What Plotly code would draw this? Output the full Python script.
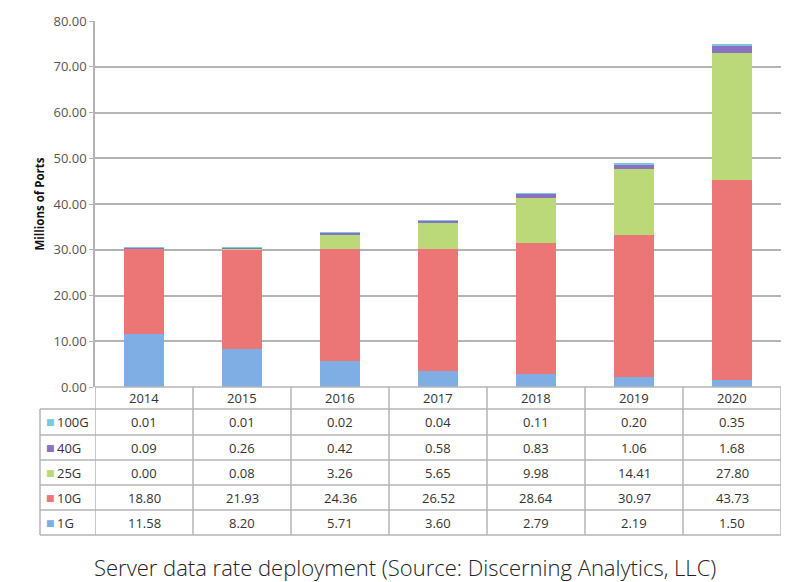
import plotly.graph_objects as go

years = ["2014", "2015", "2016", "2017", "2018", "2019", "2020"]
series_names = ["1G", "10G", "25G", "40G", "100G"]
v_1g = [11.58, 8.20, 5.71, 3.60, 2.79, 2.19, 1.50]
v_10g = [18.80, 21.93, 24.36, 26.52, 28.64, 30.97, 43.73]
v_25g = [0.00, 0.08, 3.26, 5.65, 9.98, 14.41, 27.80]
v_40g = [0.09, 0.26, 0.42, 0.58, 0.83, 1.06, 1.68]
v_100g = [0.01, 0.01, 0.02, 0.04, 0.11, 0.20, 0.35]
y_ticks = [0, 10, 20, 30, 40, 50, 60, 70, 80]

values = {"1G": v_1g, "10G": v_10g, "25G": v_25g, "40G": v_40g, "100G": v_100g}
colors = {"1G": "#7eaee3", "10G": "#ec7676", "25G": "#bcd97a", "40G": "#8a72c0", "100G": "#7cc8e0"}

W, H = 800, 582
OFF = 8  # page body margin in the browser
def px(x):
    return (x - OFF) / W
def py(y):
    return 1 - (y - OFF) / H

plot_left, plot_right, plot_top, plot_bottom = 95, 781, 21, 387
fig = go.Figure()
for name in series_names:
    fig.add_trace(go.Bar(x=years, y=values[name], name=name, width=0.41,
                         marker=dict(color=colors[name], line=dict(width=0)),
                         showlegend=False))

grid = "#b4b4b4"
fig.update_layout(
    width=W, height=H, barmode="stack",
    margin=dict(l=0, r=0, t=0, b=0, autoexpand=False),
    paper_bgcolor="white", plot_bgcolor="white",
    font=dict(family="Open Sans", color="#444"),
    xaxis=dict(type="category", domain=[px(plot_left), px(plot_right)], showticklabels=False,
               showgrid=False, zeroline=False, range=[-0.5, 6.5], fixedrange=True,
               automargin=False),
    yaxis=dict(domain=[py(plot_bottom), py(plot_top)], range=[0, 80], automargin=False,
               tickvals=y_ticks, ticktext=[f"{t:.2f}" for t in y_ticks],
               showgrid=True, gridcolor=grid, gridwidth=1.5, zeroline=False,
               showline=True, linecolor=grid, linewidth=1.5,
               ticks="outside", ticklen=4, tickcolor=grid,
               tickfont=dict(size=13, color="#555"),
               title=dict(text="<b>Millions of Ports</b>", font=dict(size=11.5, color="#111"), standoff=6)),
)

shapes = []
header_top = plot_bottom
row_lines = [409, 435, 460, 485, 510, 535]
table_left = 40
line_style = dict(color=grid, width=1.5)
shapes.append(dict(type="line", xref="paper", yref="paper", x0=px(plot_left), x1=px(plot_right),
                   y0=py(header_top), y1=py(header_top), line=line_style))
for yl in row_lines:
    shapes.append(dict(type="line", xref="paper", yref="paper", x0=px(table_left), x1=px(plot_right),
                       y0=py(yl), y1=py(yl), line=line_style))
for i in range(len(years) + 1):
    shapes.append(dict(type="line", xref="x", yref="paper", x0=i - 0.5, x1=i - 0.5,
                       y0=py(header_top), y1=py(row_lines[-1]), line=line_style))
shapes.append(dict(type="line", xref="paper", yref="paper", x0=px(table_left), x1=px(table_left),
                   y0=py(row_lines[0]), y1=py(row_lines[-1]), line=line_style))
fig.update_layout(shapes=shapes)

ann = []
cell_font = dict(size=13, color="#333", family="Open Sans")
for i, yr in enumerate(years):
    ann.append(dict(x=i, xref="x", y=py((header_top + row_lines[0]) / 2), yref="paper",
                    xanchor="center", yanchor="middle",
                    text=yr, showarrow=False, font=cell_font))
table_rows = ["100G", "40G", "25G", "10G", "1G"]
for r, name in enumerate(table_rows):
    yc = py((row_lines[r] + row_lines[r + 1]) / 2)
    ann.append(dict(x=px(44), xref="paper", y=yc, yref="paper", xanchor="left", yanchor="middle",
                    text=f'<span style="color:{colors[name]}">■</span>', showarrow=False,
                    font=dict(size=9, family="DejaVu Sans")))
    ann.append(dict(x=px(55), xref="paper", y=yc, yref="paper", xanchor="left", yanchor="middle",
                    text=name, showarrow=False, font=cell_font))
    for i, yr in enumerate(years):
        ann.append(dict(x=i, xref="x", y=yc, yref="paper", xanchor="center", yanchor="middle",
                        text=f"{values[name][i]:.2f}", showarrow=False, font=cell_font))
ann.append(dict(x=px(405), xref="paper", y=py(567), yref="paper", xanchor="center", yanchor="middle",
                text="Server data rate deployment (Source: Discerning Analytics, LLC)",
                showarrow=False, font=dict(size=22, color="#222", family="Open Sans", weight=300)))
fig.update_layout(annotations=ann)

fig.write_html("out.html")
